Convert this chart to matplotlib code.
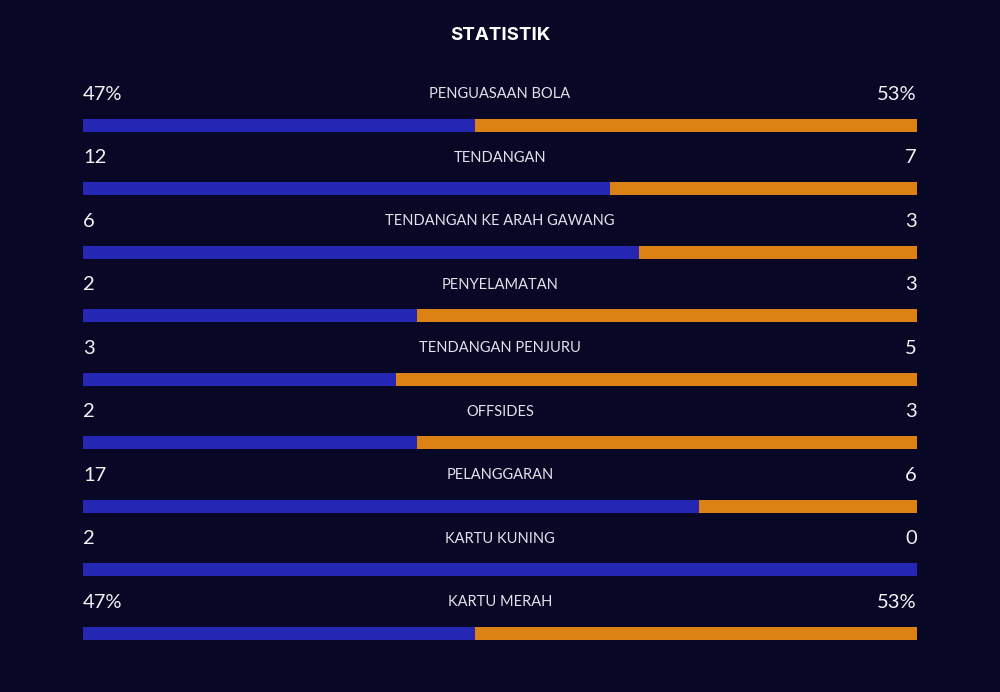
import matplotlib
matplotlib.use("Agg")
import matplotlib.pyplot as plt

title = "STATISTIK"
categories = ["PENGUASAAN BOLA", "TENDANGAN", "TENDANGAN KE ARAH GAWANG", "PENYELAMATAN",
              "TENDANGAN PENJURU", "OFFSIDES", "PELANGGARAN", "KARTU KUNING", "KARTU MERAH"]
home_values = [47, 12, 6, 2, 3, 2, 17, 2, 47]
away_values = [53, 7, 3, 3, 5, 3, 6, 0, 53]
home_labels = ["47%", "12", "6", "2", "3", "2", "17", "2", "47%"]
away_labels = ["53%", "7", "3", "3", "5", "3", "6", "0", "53%"]

BG = "#080826"
BLUE = "#2626b4"
ORANGE = "#dc8214"

fig = plt.figure(figsize=(10, 6.92), dpi=100)
fig.patch.set_facecolor(BG)
ax = fig.add_axes([0.083, 0.0, 0.834, 1.0])
ax.set_facecolor(BG)
for s in ax.spines.values():
    s.set_visible(False)
ax.set_xticks([]); ax.set_yticks([])

n = len(categories)
rows = list(range(n))
home_frac = [h / (h + a) for h, a in zip(home_values, away_values)]
away_frac = [a / (h + a) for h, a in zip(home_values, away_values)]

bh = 13 / 63.5
ax.barh(rows, home_frac, height=bh, color=BLUE, left=0)
ax.barh(rows, away_frac, height=bh, color=ORANGE, left=home_frac)

ax.set_xlim(0, 1)
ax.set_ylim(8.929, -1.969)

off = 31 / 63.5
for i in rows:
    ax.text(0, i - off, home_labels[i], ha="left", va="center", color="#f2f2f5",
            fontsize=14.5, family="Lato")
    ax.text(1, i - off, away_labels[i], ha="right", va="center", color="#f2f2f5",
            fontsize=14.5, family="Lato")
    ax.text(0.5, i - off, categories[i], ha="center", va="center", color="#e2e2ea",
            fontsize=10.5, family="Lato")

fig.text(0.5, 1 - 35 / 692, title, ha="center", va="center", color="white",
         fontsize=13.5, fontweight="bold", family="Inter")

fig.savefig("out.png", dpi=100, facecolor=BG)
